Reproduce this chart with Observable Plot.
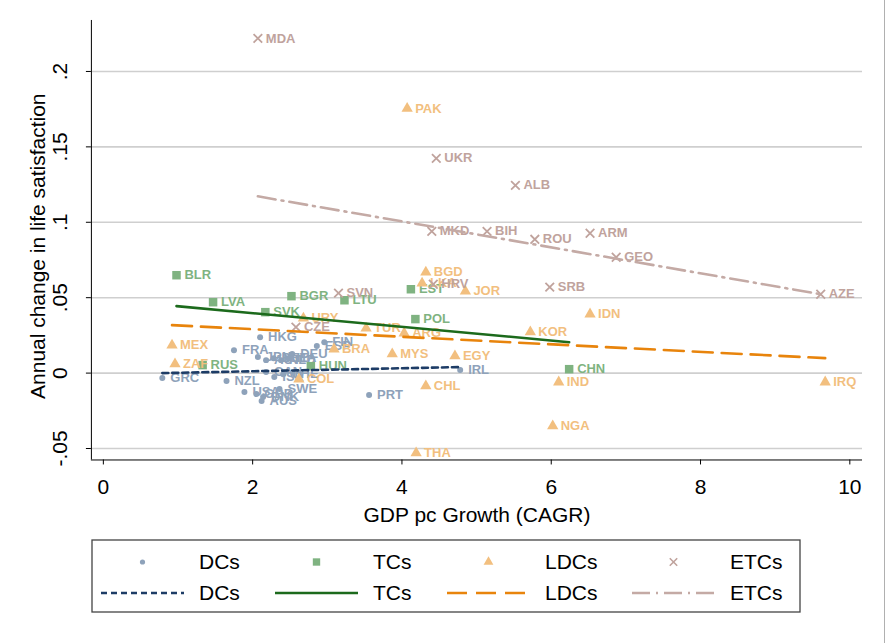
<!DOCTYPE html>
<html><head><meta charset="utf-8">
<script src="https://cdn.jsdelivr.net/npm/d3@7"></script>
<script src="https://cdn.jsdelivr.net/npm/@observablehq/plot@0.6"></script>
<style>
html,body{margin:0;padding:0;background:#fff;}
#wrap{position:relative;width:885px;height:643px;font-family:"Liberation Sans",Arial,sans-serif;box-sizing:border-box;border-right:1px solid #b0b0b0;}
#wrap svg{position:absolute;left:0;}
</style></head><body><div id="wrap"></div>
<script>
// ---- data ----
const groups = ["DCs","TCs","LDCs","ETCs"];
const dotColors = ["#8ea2ba","#7fb381","#f2bf7f","#c0a39d"];
const lineColors = ["#1d3c66","#1c6a1c","#e8840c","#c4aaa5"];
const symbols = ["circle","square","triangle","times"];

const dcNames = ["HKG","FRA","GRC","NZL","PRT","IRL","DEU","ESP","FIN","JPN","AUT","BEL","NLD","ITA","CAN","ISR","CHE","USA","GBR","DNK","SWE","AUS"];
const dcX =     [2.10, 1.75, 0.79, 1.65, 3.56, 4.78, 2.53, 2.86, 2.96, 2.07, 2.18, 2.28, 2.38, 2.48, 2.18, 2.29, 2.41, 1.89, 2.05, 2.14, 2.36, 2.12];
const dcY =     [0.0238,0.0152,-0.0033,-0.0053,-0.0146,0.0020,0.0126,0.0179,0.0205,0.0106,0.0086,0.0099,0.0086,0.0099,0.0007,-0.0026,-0.0007,-0.0126,-0.0139,-0.0159,-0.0106,-0.0185];

const tcNames = ["BLR","LVA","SVK","BGR","LTU","EST","POL","CHN","RUS","HUN"];
const tcX =     [0.98, 1.47, 2.17, 2.52, 3.23, 4.12, 4.18, 6.24, 1.33, 2.78];
const tcY =     [0.0649,0.0470,0.0404,0.0510,0.0483,0.0556,0.0358,0.0026,0.0053,0.0046];

const ldcNames = ["PAK","BGD","LKA","JOR","IDN","KOR","URY","TUR","ARG","BRA","MYS","EGY","MEX","ZAF","COL","CHL","IND","NGA","THA","IRQ"];
const ldcX =     [4.07, 4.32, 4.27, 4.85, 6.52, 5.72, 2.68, 3.52, 4.03, 3.09, 3.87, 4.71, 0.92, 0.96, 2.62, 4.32, 6.10, 6.02, 4.19, 9.67];
const ldcY =     [0.1755,0.0669,0.0596,0.0543,0.0391,0.0272,0.0364,0.0298,0.0265,0.0159,0.0126,0.0113,0.0185,0.0060,-0.0040,-0.0086,-0.0060,-0.0351,-0.0530,-0.0060];

const etcNames = ["MDA","UKR","ALB","MKD","BIH","ROU","ARM","GEO","SRB","AZE","SVN","HRV","CZE"];
const etcX =     [2.07, 4.46, 5.52, 4.40, 5.14, 5.78, 6.52, 6.87, 5.98, 9.61, 3.15, 4.42, 2.58];
const etcY =     [0.2219,0.1424,0.1245,0.0940,0.0940,0.0887,0.0927,0.0768,0.0570,0.0523,0.0530,0.0589,0.0305];

// fitted lines (start and end of each group's linear fit)
const fitGroup = ["DCs","DCs","TCs","TCs","LDCs","LDCs","ETCs","ETCs"];
const fitX =     [0.79, 4.78, 0.98, 6.24, 0.92, 9.67, 2.07, 9.61];
const fitY =     [0.0000,0.0040,0.0444,0.0205,0.0318,0.0099,0.1172,0.0523];

const xTicks = [0,2,4,6,8,10];
const yTicks = [-0.05,0,0.05,0.1,0.15,0.2];
const yTickLabels = ["-.05","0",".05",".1",".15",".2"];
const xTitle = "GDP pc Growth (CAGR)";
const yTitle = "Annual change in life satisfaction";

// ---- build tables ----
const pts = [];
[[dcNames,dcX,dcY],[tcNames,tcX,tcY],[ldcNames,ldcX,ldcY],[etcNames,etcX,etcY]].forEach(([n,xs,ys],g)=>{
  n.forEach((name,i)=>pts.push({group:groups[g], gi:g, name, x:xs[i], y:ys[i]}));
});
const fits = fitGroup.map((g,i)=>({group:g, x:fitX[i], y:fitY[i]}));

const FONT = "Liberation Sans, Arial, Helvetica, sans-serif";
const xDomain = [-0.16, 10.17], yDomain = [-0.0576, 0.2338];
const dotR = [3.0, 4.8, 4.2, 4.0];
const dashes = ["6,4", null, "20,9", "18,6,2,6"];

const marks = [
  Plot.ruleY(yTicks, {stroke:"#cfcfcf", strokeWidth:1.6}),
  Plot.ruleX([xDomain[0]], {stroke:"#000", strokeWidth:1}),
  Plot.ruleY([yDomain[0]], {stroke:"#000", strokeWidth:1}),
  Plot.axisX({ticks:xTicks, tickSize:5, tickPadding:14, fontSize:21, label:null, tickFormat:d=>String(d)}),
  Plot.axisY({ticks:yTicks, tickSize:5, tickFormat:()=>"", label:null}),
  Plot.text(yTicks, {y:d=>d, text:(d,i)=>yTickLabels[i], frameAnchor:"left", textAnchor:"middle", dx:-31, rotate:-90, fontSize:21, fill:"#000"}),
  Plot.text([xTitle], {text:d=>d, frameAnchor:"bottom", textAnchor:"middle", dy:62, fontSize:21, fill:"#000"}),
  Plot.text([yTitle], {text:d=>d, frameAnchor:"left", textAnchor:"middle", dx:-53, dy:6, rotate:-90, fontSize:21, fill:"#000"})
];
groups.forEach((g,gi)=>{
  const d = pts.filter(p=>p.gi===gi);
  if (symbols[gi]==="times") {
    marks.push(Plot.dot(d, {x:"x", y:"y", symbol:"times", r:dotR[gi], stroke:dotColors[gi], strokeWidth:1.8}));
  } else {
    marks.push(Plot.dot(d, {x:"x", y:"y", symbol:symbols[gi], r:dotR[gi], fill:dotColors[gi], stroke:"none"}));
  }
  marks.push(Plot.text(d, {x:"x", y:"y", text:"name", dx:8, textAnchor:"start", fill:dotColors[gi], fontSize:13, fontWeight:"bold"}));
});
groups.forEach((g,gi)=>{
  marks.push(Plot.line(fits.filter(f=>f.group===g), {x:"x", y:"y", stroke:lineColors[gi], strokeWidth:2.6, strokeDasharray:dashes[gi] || undefined}));
});

const chart = Plot.plot({
  width:885, height:530,
  marginLeft:91, marginRight:22, marginTop:20, marginBottom:70,
  x:{domain:xDomain}, y:{domain:yDomain},
  style:{fontFamily:FONT, background:"#fff", color:"#000", overflow:"visible"},
  marks
});
chart.style.top = "0px";
document.getElementById("wrap").appendChild(chart);

// ---- legend ----
const lg = d3.create("svg").attr("width",885).attr("height",100)
  .style("position","absolute").style("top","530px").style("left","0px");
lg.append("rect").attr("x",92).attr("y",10).attr("width",708).attr("height",72)
  .attr("fill","#fff").attr("stroke","#444").attr("stroke-width",1.3);
const symX = [142.5,316.5,488.5,673.5];
const row1 = 32, row2 = 63;
groups.forEach((g,gi)=>{
  const cx = symX[gi];
  const sym = d3.symbol().type([d3.symbolCircle,d3.symbolSquare,d3.symbolTriangle,d3.symbolTimes][gi])
    .size(Math.PI*dotR[gi]*dotR[gi]*0.75)();
  const p = lg.append("path").attr("d",sym).attr("transform",`translate(${cx},${row1})`);
  if (gi===3) p.attr("fill","none").attr("stroke",dotColors[gi]).attr("stroke-width",1.6);
  else p.attr("fill",dotColors[gi]);
  lg.append("line").attr("x1",cx-41.5).attr("x2",cx+41.5).attr("y1",row2).attr("y2",row2)
    .attr("stroke",lineColors[gi]).attr("stroke-width",2.6)
    .attr("stroke-dasharray",dashes[gi]||null);
  [row1,row2].forEach(ry=>{
    lg.append("text").attr("x",cx+56.5).attr("y",ry).attr("dy","0.35em")
      .attr("font-family",FONT).attr("font-size",21).attr("fill","#000").text(g);
  });
});
document.getElementById("wrap").appendChild(lg.node());
</script></body></html>
